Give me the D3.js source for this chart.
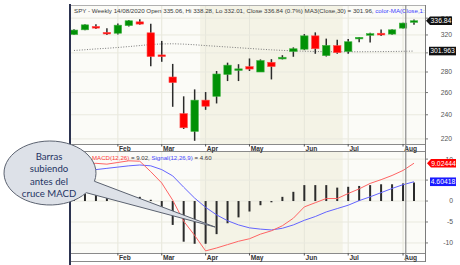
<!DOCTYPE html>
<html>
<head>
<meta charset="utf-8">
<script src="https://cdn.jsdelivr.net/npm/d3@7"></script>
<style>
body { margin: 0; background: #fff; }
text { font-family: "Liberation Sans", Arial, sans-serif; }
</style>
</head>
<body>
<div id="chart"></div>
<script>
// weekly bars, labelled by the Friday of each week (2020)
const weeks = ["10/01","17/01","24/01","31/01","07/02","14/02","21/02","28/02","06/03","13/03","20/03","27/03",
    "03/04","09/04","17/04","24/04","01/05","08/05","15/05","22/05","29/05","05/06","12/06","19/06","26/06",
    "02/07","10/07","17/07","24/07","31/07","07/08","14/08"];
const open  = [320.5, 326.0, 330.0, 323.0, 322.0, 331.0, 335.5, 322.5, 297.8, 275.0, 241.0, 226.0,
    253.0, 256.5, 277.5, 282.6, 285.5, 280.0, 290.0, 293.5, 301.5, 304.0, 319.0, 297.0, 308.0,
    301.5, 316.5, 320.0, 322.0, 321.0, 328.0, 335.06];
const high  = [326.7, 332.5, 332.6, 327.8, 333.6, 337.8, 338.8, 333.3, 313.2, 288.3, 256.5, 263.0,
    260.5, 281.0, 289.6, 288.0, 294.0, 293.0, 293.3, 297.5, 306.0, 321.0, 323.0, 315.8, 314.4,
    315.4, 317.7, 322.6, 326.5, 326.6, 334.5, 338.28];
const low   = [320.0, 325.5, 327.0, 320.0, 320.4, 330.0, 332.0, 285.9, 290.5, 247.0, 228.0, 218.5,
    244.3, 250.0, 271.0, 271.0, 281.0, 280.0, 272.6, 293.0, 295.8, 303.0, 299.0, 296.1, 299.0,
    299.0, 311.6, 311.5, 318.9, 320.3, 327.5, 332.01];
const close = [325.7, 331.9, 328.0, 321.2, 331.5, 336.8, 332.8, 296.0, 296.0, 269.5, 229.0, 253.0,
    247.5, 278.0, 287.0, 283.2, 283.0, 291.8, 285.5, 295.3, 304.5, 319.0, 304.5, 308.2, 300.2,
    312.3, 317.3, 321.5, 320.0, 326.0, 334.0, 336.84];
const ma30  = [302.6, 303.4, 304.3, 305.0, 305.9, 306.9, 308.0, 309.2, 309.8, 310.0, 309.6, 308.9,
    308.0, 307.2, 306.4, 305.6, 304.8, 304.0, 303.3, 302.7, 302.2, 301.8, 301.5, 301.3, 301.2,
    301.2, 301.2, 301.3, 301.4, 301.5, 301.7, 301.96];

const macd   = [8.2, 8.9, 9.0, 8.8, 9.2, 9.6, 9.5, 7.0, 4.3, 0.2, -4.8, -8.2,
    -11.9, -11.2, -10.4, -9.6, -9.0, -7.9, -7.1, -5.9, -4.1, -1.4, -0.4, 0.6, 0.6,
    1.8, 2.9, 4.2, 5.1, 6.1, 7.3, 9.02];
const signal = [7.0, 7.2, 7.5, 7.8, 8.1, 8.4, 8.6, 8.4, 7.5, 6.0, 3.3, 0.7,
    -1.5, -3.3, -4.7, -5.7, -6.4, -6.7, -6.9, -6.5, -5.7, -4.6, -3.7, -2.6, -1.8,
    -1.0, 0.1, 1.0, 2.0, 3.0, 3.9, 4.60];
const hist   = [1.3, 1.7, 1.5, 1.3, 1.1, 1.2, 1.0, 0.3, -1.4, -5.7, -9.7, -10.2,
    -10.2, -7.9, -5.3, -3.9, -2.5, -1.0, -0.3, 1.0, 2.2, 3.8, 3.8, 3.8, 3.2,
    3.4, 3.6, 3.8, 4.0, 4.0, 4.2, 4.42];

const monthLabels = ["Feb", "Mar", "Apr", "May", "Jun", "Jul", "Aug"];
const monthWeeks  = ["07/02", "06/03", "03/04", "01/05", "05/06", "02/07", "07/08"];
const priceTicks = [220, 240, 260, 280, 300, 320, 340];
const macdTicks = [-10, -5, 0, 5, 10];

const titleText = "SPY - Weekly 14/08/2020 Open 335.06, Hi 338.28, Lo 332.01, Close 336.84 (0.7%) MA3(Close,30) = 301.96, ";
const titleMore = "color-MA(Close,1:1)";
const bubbleLines = ["Barras", "subiendo", "antes del", "cruce MACD"];

const W = 460, H = 265;
const L = 70, R = 425;
const priceBox = {y0: 5, y1: 144};
const macdBox = {y0: 152, y1: 253};

const svg = d3.select("#chart").append("svg")
    .attr("width", W).attr("height", H)
    .attr("viewBox", `0 0 ${W} ${H}`);

const x = d3.scalePoint().domain(weeks).range([74, 414]);
const step = x.step();
const yP = d3.scaleLog().domain([216, 356.5]).range([priceBox.y1, priceBox.y0]);
const yM = d3.scaleLinear().domain([-12.4, 11.7]).range([macdBox.y1, macdBox.y0]);

const defs = svg.append("defs");
defs.append("clipPath").attr("id", "clipP").append("rect")
    .attr("x", L).attr("y", priceBox.y0).attr("width", R - L).attr("height", priceBox.y1 - priceBox.y0);
defs.append("clipPath").attr("id", "clipM").append("rect")
    .attr("x", L).attr("y", macdBox.y0).attr("width", R - L).attr("height", macdBox.y1 - macdBox.y0);

// backgrounds, second quarter shaded
const q2a = x("03/04") - step / 2, q2b = x("02/07") - step / 2;
[priceBox, macdBox].forEach(b => {
    svg.append("rect").attr("x", L).attr("y", b.y0).attr("width", R - L).attr("height", b.y1 - b.y0)
        .attr("fill", "#fbfbf7");
    svg.append("rect").attr("x", q2a).attr("y", b.y0).attr("width", q2b - q2a).attr("height", b.y1 - b.y0)
        .attr("fill", "#f4f3e6");
    svg.append("g").selectAll("line").data(monthWeeks).enter().append("line")
        .attr("x1", d => x(d)).attr("x2", d => x(d))
        .attr("y1", b.y0).attr("y2", b.y1)
        .attr("stroke", "#e6e6da").attr("stroke-width", 1);
});
svg.append("g").selectAll("line").data(priceTicks).enter().append("line")
    .attr("x1", L).attr("x2", R).attr("y1", d => yP(d)).attr("y2", d => yP(d))
    .attr("stroke", "#e9e9df");
svg.append("g").selectAll("line").data(macdTicks).enter().append("line")
    .attr("x1", L).attr("x2", R).attr("y1", d => yM(d)).attr("y2", d => yM(d))
    .attr("stroke", "#e9e9df");

// ---- price panel
const gP = svg.append("g").attr("clip-path", "url(#clipP)");

gP.append("path").datum(ma30)
    .attr("fill", "none").attr("stroke", "#7a7a7a").attr("stroke-width", 1)
    .attr("stroke-dasharray", "1,1.6")
    .attr("d", d3.line().x((d, i) => x(weeks[i])).y(d => yP(d)));

const candles = gP.selectAll("g.candle").data(weeks).enter().append("g").attr("class", "candle");
candles.append("line")
    .attr("x1", d => x(d)).attr("x2", d => x(d))
    .attr("y1", (d, i) => yP(high[i])).attr("y2", (d, i) => yP(low[i]))
    .attr("stroke", "#2b2b2b").attr("stroke-width", 1.5);
candles.append("rect")
    .attr("x", d => x(d) - step * 0.34)
    .attr("width", step * 0.68)
    .attr("y", (d, i) => yP(Math.max(open[i], close[i])))
    .attr("height", (d, i) => Math.max(1.6, yP(Math.min(open[i], close[i])) - yP(Math.max(open[i], close[i]))))
    .attr("fill", (d, i) => close[i] >= open[i] ? "#019106" : "#ff0000")
    .attr("stroke", (d, i) => close[i] >= open[i] ? "#43b443" : "#ff5050")
    .attr("stroke-width", 0.6);

gP.append("text").attr("x", 74).attr("y", 12.5)
    .attr("font-size", 6.2).attr("fill", "#3a3a3a")
    .text(titleText)
    .append("tspan").attr("fill", "#3c3cff").text(titleMore);

// ---- MACD panel
const gM = svg.append("g").attr("clip-path", "url(#clipM)");
gM.selectAll("line.hist").data(weeks).enter().append("line").attr("class", "hist")
    .attr("x1", d => x(d)).attr("x2", d => x(d))
    .attr("y1", yM(0)).attr("y2", (d, i) => yM(hist[i]))
    .attr("stroke", "#2b2b2b").attr("stroke-width", 2);
gM.append("path").datum(signal)
    .attr("fill", "none").attr("stroke", "#6464ff").attr("stroke-width", 1)
    .attr("d", d3.line().x((d, i) => x(weeks[i])).y(d => yM(d)));
gM.append("path").datum(macd)
    .attr("fill", "none").attr("stroke", "#ff6464").attr("stroke-width", 1)
    .attr("d", d3.line().x((d, i) => x(weeks[i])).y(d => yM(d)));

const leg = gM.append("text").attr("x", 92).attr("y", 159.5).attr("font-size", 6.1).attr("fill", "#3a3a3a");
leg.append("tspan").attr("fill", "#ff3c3c").text("MACD(12,26)");
leg.append("tspan").text(" = " + macd[macd.length - 1].toFixed(2) + ", ");
leg.append("tspan").attr("fill", "#4646ff").text("Signal(12,26,9)");
leg.append("tspan").text(" = " + signal[signal.length - 1].toFixed(2));

// ---- date strips
[[priceBox.y1, macdBox.y0], [macdBox.y1, 262]].forEach(([a, b]) => {
    svg.append("rect").attr("x", L).attr("y", a).attr("width", R - L).attr("height", b - a).attr("fill", "#fff");
    svg.append("line").attr("x1", L).attr("x2", R).attr("y1", a + 0.5).attr("y2", a + 0.5).attr("stroke", "#8a8a8a");
    svg.append("line").attr("x1", L).attr("x2", R).attr("y1", b - 0.5).attr("y2", b - 0.5).attr("stroke", "#8a8a8a");
    const g = svg.append("g").selectAll("g").data(monthWeeks).enter().append("g");
    g.append("line").attr("x1", d => x(d)).attr("x2", d => x(d)).attr("y1", a).attr("y2", a + 2.5)
        .attr("stroke", "#555");
    g.append("text").attr("x", d => x(d) + 1.2).attr("y", a + 7)
        .attr("font-size", 6.6).attr("font-weight", "bold").attr("fill", "#333")
        .text((d, i) => monthLabels[i]);
});

// frame lines
svg.append("line").attr("x1", L).attr("x2", R).attr("y1", priceBox.y0 + 0.5).attr("y2", priceBox.y0 + 0.5).attr("stroke", "#b0b0b0");
svg.append("line").attr("x1", R + 0.5).attr("x2", R + 0.5).attr("y1", priceBox.y0).attr("y2", 262).attr("stroke", "#7c7c7c");
svg.append("line").attr("x1", x("07/08") + step * 0.25).attr("x2", x("07/08") + step * 0.25)
    .attr("y1", priceBox.y0).attr("y2", 262).attr("stroke", "#8c8c8c").attr("stroke-width", 1.2);
svg.append("line").attr("x1", L).attr("x2", L).attr("y1", 4).attr("y2", H)
    .attr("stroke", "#2c3350").attr("stroke-width", 2);

// value tags on the right axis
const tags = [
    {y: yP(close[close.length - 1]), label: "336.84", fill: "#111", arrow: true, x0: 430, x1: 452},
    {y: yP(ma30[ma30.length - 1]), label: "301.963", fill: "#111", arrow: false, x0: 429, x1: 456},
    {y: yM(macd[macd.length - 1]), label: "9.02444", fill: "#ff0000", arrow: true, x0: 431, x1: 456},
    {y: yM(signal[signal.length - 1]), label: "4.60418", fill: "#1a1aff", arrow: false, x0: 430, x1: 456}
];
const hiddenByTag = yy => tags.some(t => Math.abs(t.y - yy) < 2.2);

// right axes (labels fully covered by a tag are not drawn)
const axR = svg.append("g");
axR.selectAll("text.p").data(priceTicks.filter(d => !hiddenByTag(yP(d)))).enter().append("text")
    .attr("x", 452).attr("y", d => yP(d) + 2.4).attr("text-anchor", "end")
    .attr("font-size", 6.8).attr("fill", "#555").text(d => d);
axR.selectAll("text.m").data(macdTicks.filter(d => !hiddenByTag(yM(d)))).enter().append("text")
    .attr("x", 453).attr("y", d => yM(d) + 2.4).attr("text-anchor", "end")
    .attr("font-size", 6.8).attr("fill", "#555").text(d => d);
axR.selectAll("line.pt").data(priceTicks).enter().append("line")
    .attr("x1", R).attr("x2", R + 3).attr("y1", d => yP(d)).attr("y2", d => yP(d)).attr("stroke", "#777");
axR.selectAll("line.mt").data(macdTicks).enter().append("line")
    .attr("x1", R).attr("x2", R + 3).attr("y1", d => yM(d)).attr("y2", d => yM(d)).attr("stroke", "#777");

tags.forEach(t => {
    const h = 4.3, y = t.y;
    const p = t.arrow
        ? `M${t.x0 - 4},${y} L${t.x0},${y - h} L${t.x1},${y - h} L${t.x1},${y + h} L${t.x0},${y + h} Z`
        : `M${t.x0},${y - h} L${t.x1},${y - h} L${t.x1},${y + h} L${t.x0},${y + h} Z`;
    svg.append("path").attr("d", p).attr("fill", t.fill);
    svg.append("text").attr("x", (t.x0 + t.x1) / 2).attr("y", y + 2.4).attr("text-anchor", "middle")
        .attr("font-size", 6.8).attr("fill", "#fff").text(t.label);
});

// ---- callout bubble
const cx = 50, cy = 173, rx = 46, ry = 32;
const a1 = 15 * Math.PI / 180, a2 = 38 * Math.PI / 180;
const A = [cx + rx * Math.cos(a1), cy + ry * Math.sin(a1)];
const B = [cx + rx * Math.cos(a2), cy + ry * Math.sin(a2)];
const tip = [(x("03/04") + x("09/04")) / 2 + 4, yM(-6.2)];
svg.append("path")
    .attr("d", `M${A} A${rx},${ry} 0 1 0 ${B} L${tip} Z`)
    .attr("fill", "#dde1e8").attr("stroke", "#5b6270").attr("stroke-width", 1);
svg.append("g").selectAll("text").data(bubbleLines).enter().append("text")
    .attr("x", cx - 1).attr("y", (d, i) => 160 + i * 12.3)
    .attr("text-anchor", "middle")
    .style("font-family", "Lato, 'Open Sans', sans-serif")
    .attr("font-size", 9.6).attr("fill", "#1f3463")
    .text(d => d);
</script>
</body>
</html>
